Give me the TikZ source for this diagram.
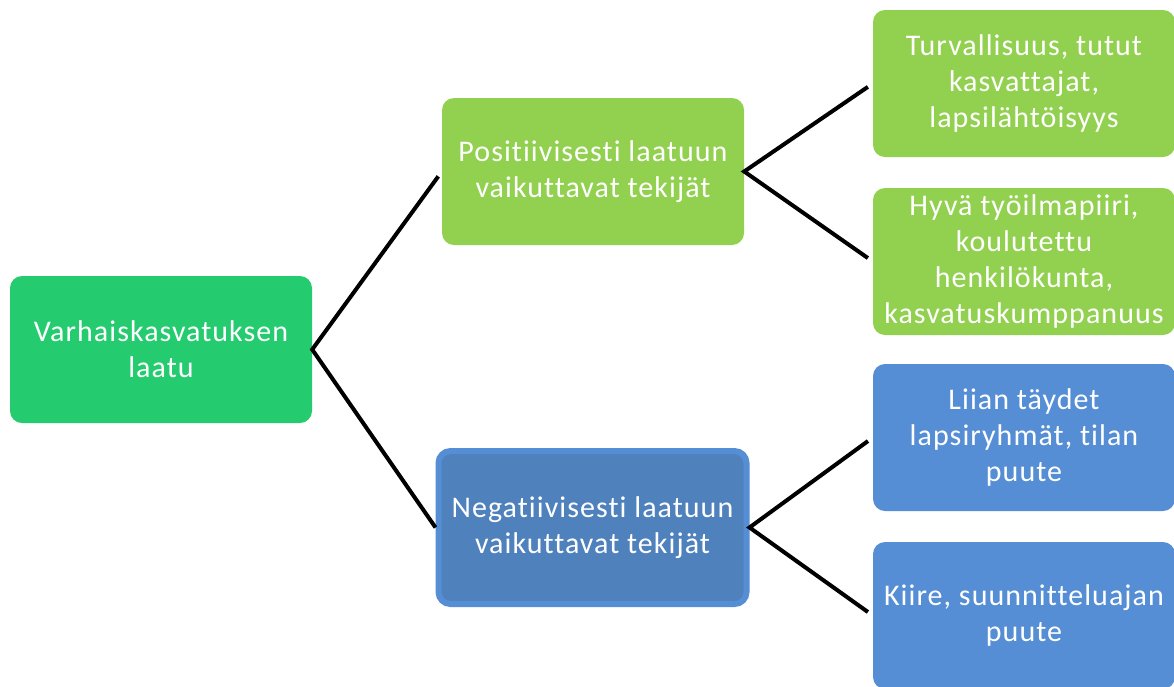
\documentclass[tikz,border=0pt]{standalone}
\usepackage{fontspec}
\setmainfont{Carlito}[Ligatures={NoCommon}, LetterSpace=3.5]
\definecolor{rootgreen}{HTML}{25CB6F}
\definecolor{posgreen}{HTML}{92D050}
\definecolor{negblue}{HTML}{4F81BD}
\definecolor{leafblue}{HTML}{558ED5}

\begin{document}
\begin{tikzpicture}[x=1pt,y=-1pt,
  box/.style={rounded corners=12pt, minimum width=302pt, minimum height=147pt,
    inner sep=0pt, align=center, text=white, font=\fontsize{30}{36}\selectfont},
  link/.style={line width=4pt, black, miter limit=20}]
\useasboundingbox (0,0) rectangle (1174,686);
% nodes
\node[box, fill=rootgreen] (root) at (161,349.5) {Varhaiskasvatuksen\\laatu};
\node[box, fill=posgreen] (pos) at (593,171.5) {Positiivisesti laatuun\\vaikuttavat tekijät};
\node[box, fill=negblue, draw=leafblue, line width=6pt, minimum width=308pt, minimum height=153pt] (neg) at (592.5,527.5) {Negatiivisesti laatuun\\vaikuttavat tekijät};
\node[box, fill=posgreen] (pos1) at (1024,83.5) {Turvallisuus, tutut\\kasvattajat,\\lapsilähtöisyys};
\node[box, fill=posgreen] (pos2) at (1024,261.5) {Hyvä työilmapiiri,\\koulutettu\\henkilökunta,\\kasvatuskumppanuus};
\node[box, fill=leafblue] (neg1) at (1024,437.5) {Liian täydet\\lapsiryhmät, tilan\\puute};
\node[box, fill=leafblue] (neg2) at (1024,615.5) {Kiire, suunnitteluajan\\puute};
% connectors
\draw[link, shorten <=6pt] (pos.west) -- (root.east) -- (neg.west);
\draw[link, shorten <=6pt, shorten >=6pt] (pos1.west) -- (pos.east) -- (pos2.west);
\draw[link, shorten <=6pt, shorten >=6pt] (neg1.west) -- (neg.east) -- (neg2.west);
\end{tikzpicture}
\end{document}
